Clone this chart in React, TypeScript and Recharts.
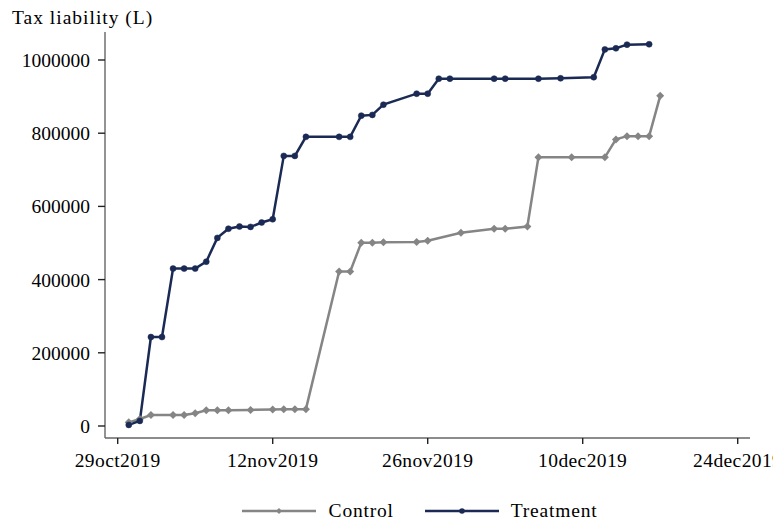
import React from 'react';
import { LineChart, Line, XAxis, YAxis, Legend } from 'recharts';

// days since 29oct2019
const treatmentDays = [1, 2, 3, 4, 5, 6, 7, 8, 9, 10, 11, 12, 13, 14, 15, 16, 17, 20, 21, 22, 23, 24, 27, 28, 29, 30, 34, 35, 38, 40, 43, 44, 45, 46, 48];
const treatmentValues = [3000, 14000, 243000, 243000, 430000, 430000, 430000, 449000, 514000, 539000, 545000, 544000, 556000, 565000, 738000, 738000, 790000, 790000, 790000, 848000, 850000, 878000, 908000, 908000, 949000, 949000, 949000, 949000, 949000, 950000, 953000, 1029000, 1032000, 1042000, 1043000];

const controlDays = [1, 2, 3, 5, 6, 7, 8, 9, 10, 12, 14, 15, 16, 17, 20, 21, 22, 23, 24, 27, 28, 31, 34, 35, 37, 38, 41, 44, 45, 46, 47, 48, 49];
const controlValues = [10000, 19000, 30000, 30000, 30000, 35000, 43000, 43000, 43000, 44000, 45000, 46000, 46000, 46000, 422000, 422000, 501000, 501000, 502000, 503000, 506000, 528000, 539000, 539000, 545000, 734000, 734000, 734000, 783000, 792000, 792000, 792000, 902000];

const xTicks = [0, 14, 28, 42, 56];
const xTickLabels = ['29oct2019', '12nov2019', '26nov2019', '10dec2019', '24dec2019'];
const yTicks = [0, 200000, 400000, 600000, 800000, 1000000];

const NAVY = '#1b2a55';
const GRAY = '#858585';
const FONT = '"Liberation Serif", "Times New Roman", "DejaVu Serif", serif';

const treatment = treatmentDays.map((day, i) => ({ day, value: treatmentValues[i] }));
const control = controlDays.map((day, i) => ({ day, value: controlValues[i] }));

const Diamond = (props: any) => {
  const { cx, cy } = props;
  if (cx == null || cy == null) return null;
  const r = 4;
  return <polygon points={`${cx},${cy - r} ${cx + r},${cy} ${cx},${cy + r} ${cx - r},${cy}`} fill={GRAY} />;
};

const LegendContent = () => (
  <div style={{ display: 'flex', justifyContent: 'center', alignItems: 'center', fontFamily: FONT, fontSize: 19.5, letterSpacing: 0.8, color: '#000' }}>
    <svg width={74} height={10} style={{ marginRight: 13 }}>
      <line x1={0} y1={5} x2={74} y2={5} stroke={GRAY} strokeWidth={2.5} />
      <polygon points="37,2 40,5 37,8 34,5" fill={GRAY} />
    </svg>
    <span style={{ marginRight: 31 }}>Control</span>
    <svg width={74} height={10} style={{ marginRight: 12 }}>
      <line x1={0} y1={5} x2={74} y2={5} stroke={NAVY} strokeWidth={2.5} />
      <circle cx={37} cy={5} r={2.8} fill={NAVY} />
    </svg>
    <span>Treatment</span>
  </div>
);

export default function App() {
  const tickStyle = { fill: '#000', fontSize: 19.5, fontFamily: FONT };
  return (
    <div style={{ position: 'absolute', left: 0, top: 0, width: 773, height: 523, background: '#fff' }}>
      <LineChart width={773} height={523} margin={{ top: 32, right: 23, bottom: 55, left: 0 }}>
        <XAxis
          dataKey="day"
          type="number"
          domain={[-1.147, 57.11]}
          allowDataOverflow
          ticks={xTicks}
          tickFormatter={(v: number) => xTickLabels[xTicks.indexOf(v)] ?? ''}
          tick={{ ...tickStyle, letterSpacing: 0.4 }}
          tickSize={6}
          tickMargin={9}
          height={30}
          stroke="#666"
          strokeWidth={1.4}
          tickLine={{ stroke: '#222' }}
          interval={0}
        />
        <YAxis
          type="number"
          domain={[-32787, 1076503]}
          allowDataOverflow
          ticks={yTicks}
          tick={tickStyle}
          tickSize={7}
          tickMargin={8}
          width={105}
          stroke="#666"
          strokeWidth={1.4}
          tickLine={{ stroke: '#222' }}
          interval={0}
          label={{
            content: () => (
              <text x={12} y={24} fontSize={19.5} fontFamily={FONT} letterSpacing={1} fill="#000">
                Tax liability (L)
              </text>
            ),
          }}
        />
        <Legend
          layout="horizontal"
          verticalAlign="middle"
          align="center"
          content={<LegendContent />}
          wrapperStyle={{ top: 500, left: 97, width: 645 }}
        />
        <Line
          data={control}
          dataKey="value"
          name="Control"
          stroke={GRAY}
          strokeWidth={2.5}
          dot={<Diamond />}
          activeDot={false}
          isAnimationActive={false}
        />
        <Line
          data={treatment}
          dataKey="value"
          name="Treatment"
          stroke={NAVY}
          strokeWidth={2.5}
          dot={{ r: 3, fill: NAVY, stroke: NAVY, strokeWidth: 0.5 }}
          activeDot={false}
          isAnimationActive={false}
        />
      </LineChart>
    </div>
  );
}
